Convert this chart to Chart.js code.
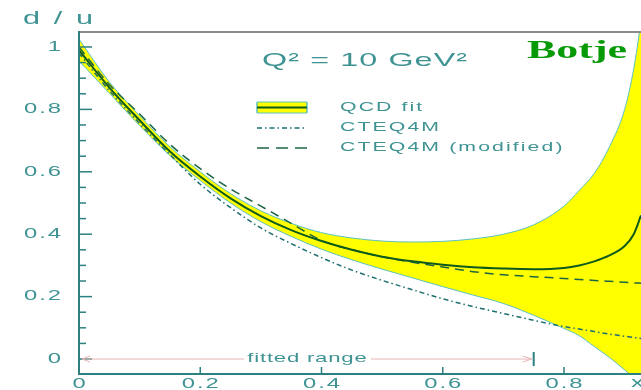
<!DOCTYPE html>
<html>
<head>
<meta charset="utf-8">
<script src="https://cdn.jsdelivr.net/npm/chart.js@4.4.0/dist/chart.umd.min.js"></script>
<style>
  html, body { margin: 0; padding: 0; background: #fff; overflow: hidden; }
  #wrap { width: 641px; height: 390px; overflow: hidden; }
</style>
</head>
<body>
<div id="wrap"><canvas id="duRatio" width="641" height="400"></canvas></div>
<script>
// x values shared by every curve
const xVals = [0, 0.05, 0.1, 0.15, 0.2, 0.25, 0.3, 0.35, 0.4, 0.45, 0.5, 0.55, 0.6, 0.65, 0.7, 0.75, 0.8, 0.825, 0.85, 0.875, 0.9, 0.915, 0.927];

// QCD fit central value and error band
const qcdFit   = [0.99, 0.87, 0.765, 0.665, 0.585, 0.515, 0.458, 0.413, 0.378, 0.35, 0.328, 0.313, 0.302, 0.294, 0.29, 0.288, 0.292, 0.3, 0.313, 0.332, 0.362, 0.4, 0.46];
const qcdUpper = [1.025, 0.888, 0.78, 0.68, 0.6, 0.53, 0.475, 0.435, 0.405, 0.388, 0.378, 0.375, 0.377, 0.385, 0.4, 0.43, 0.49, 0.54, 0.595, 0.68, 0.8, 0.93, 1.08];
const qcdLower = [0.955, 0.852, 0.748, 0.652, 0.572, 0.5, 0.44, 0.393, 0.352, 0.318, 0.288, 0.26, 0.232, 0.205, 0.178, 0.14, 0.098, 0.075, 0.04, 0.005, -0.035, -0.06, -0.08];

// CTEQ4M and modified CTEQ4M
const cteq4m    = [0.98, 0.86, 0.755, 0.655, 0.56, 0.485, 0.42, 0.37, 0.325, 0.285, 0.252, 0.222, 0.193, 0.168, 0.146, 0.124, 0.104, 0.096, 0.088, 0.08, 0.073, 0.069, 0.066];
const cteq4mMod = [1.0, 0.88, 0.785, 0.688, 0.61, 0.545, 0.49, 0.435, 0.38, 0.35, 0.328, 0.31, 0.295, 0.28, 0.27, 0.264, 0.258, 0.255, 0.252, 0.249, 0.246, 0.244, 0.243];

const xTicks = [0, 0.2, 0.4, 0.6, 0.8];
const yTicks = [0, 0.2, 0.4, 0.6, 0.8, 1];
const legendLabels = ["QCD fit", "CTEQ4M", "CTEQ4M (modified)"];
const fittedRange = [0, 0.75];

const teal = "#2c8080";
const textTeal = "#3f9393";
const bandEdge = "#5cc0c0";
const fitGreen = "#0e5a1c";
const cteqColor = "#1d6f70";
const modColor = "#1d6544";

const toPoints = (ys) => xVals.map((x, i) => ({ x: x, y: ys[i] }));

// draws text stretched sideways with a little letter spacing, like the original plot
function wideText(ctx, text, x, y, size, gap, align, color) {
  ctx.save();
  ctx.font = size + 'px "Liberation Sans", Arial, sans-serif';
  ctx.fillStyle = color;
  ctx.textBaseline = "middle";
  ctx.textAlign = "left";
  const sx = 1.7;
  const chars = [...text];
  const widths = chars.map((c) => ctx.measureText(c).width * sx);
  const total = widths.reduce((a, b) => a + b, 0) + gap * (chars.length - 1);
  let cx = align === "right" ? x - total : align === "center" ? x - total / 2 : x;
  chars.forEach((c, i) => {
    ctx.save();
    ctx.translate(cx, y);
    ctx.scale(sx, 1);
    ctx.fillText(c, 0, 0);
    ctx.restore();
    cx += widths[i] + gap;
  });
  ctx.restore();
}

function line(ctx, x1, y1, x2, y2, color, width, dash) {
  ctx.save();
  ctx.strokeStyle = color;
  ctx.lineWidth = width;
  ctx.setLineDash(dash || []);
  ctx.beginPath();
  ctx.moveTo(x1, y1);
  ctx.lineTo(x2, y2);
  ctx.stroke();
  ctx.restore();
}

const decor = {
  id: "decor",
  afterDraw(chart) {
    const ctx = chart.ctx;
    const area = chart.chartArea;
    const xs = chart.scales.x;
    const ys = chart.scales.y;

    // frame
    line(ctx, area.left, area.top, area.right, area.top, "#8a8a8a", 2);
    line(ctx, area.left, area.top - 1, area.left, area.bottom + 1, teal, 2);
    line(ctx, area.left, area.bottom, area.right, area.bottom, teal, 2);

    // y ticks, inward, minor every 0.05
    for (let i = 0; i < yTicks.length; i++) {
      const py = ys.getPixelForValue(yTicks[i]);
      line(ctx, area.left, py, area.left + 13, py, teal, 1.5);
      wideText(ctx, String(yTicks[i]), 61, py, 14, 2, "right", textTeal);
      if (i < yTicks.length - 1) {
        const step = (yTicks[i + 1] - yTicks[i]) / 4;
        for (let k = 1; k < 4; k++) {
          const my = ys.getPixelForValue(yTicks[i] + k * step);
          line(ctx, area.left, my, area.left + 7, my, teal, 1.5);
        }
      }
    }

    // x ticks
    xTicks.forEach((v) => {
      const px = xs.getPixelForValue(v);
      if (v > 0) line(ctx, px, area.bottom, px, area.bottom - 7, teal, 1.5);
      wideText(ctx, String(v), px, 384, 14, 2, "center", textTeal);
    });
    wideText(ctx, "x", 631, 383, 15, 0, "left", textTeal);

    // y axis title
    wideText(ctx, "d / u", 23, 19, 18, 2.6, "left", textTeal);

    // title
    wideText(ctx, "Q\u00b2 = 10 GeV\u00b2", 262, 61, 19, 1.1, "left", textTeal);

    // Botje
    ctx.save();
    ctx.font = 'bold 25px "Liberation Serif", "Times New Roman", serif';
    ctx.fillStyle = "#079a07";
    ctx.textBaseline = "alphabetic";
    const bw = ctx.measureText("Botje").width;
    ctx.translate(527, 58);
    ctx.scale(100 / bw, 1);
    ctx.fillText("Botje", 0, 0);
    ctx.restore();

    // legend
    const lx1 = 257, lx2 = 307;
    ctx.save();
    ctx.fillStyle = "#ffff00";
    ctx.fillRect(lx1, 102, lx2 - lx1, 11);
    ctx.restore();
    line(ctx, lx1, 102, lx2, 102, bandEdge, 1);
    line(ctx, lx1, 113, lx2, 113, bandEdge, 1);
    line(ctx, lx1, 102, lx1, 113, bandEdge, 1.5);
    line(ctx, lx2, 102, lx2, 113, bandEdge, 1.5);
    line(ctx, lx1, 107.5, lx2, 107.5, fitGreen, 2);
    line(ctx, lx1, 128, lx2, 128, cteqColor, 1.5, [5, 3, 1.5, 3]);
    line(ctx, lx1, 148, lx2, 148, modColor, 1.5, [12, 7]);
    wideText(ctx, legendLabels[0], 340, 107.5, 12.5, 2.1, "left", textTeal);
    wideText(ctx, legendLabels[1], 340, 127.5, 12.5, 2.1, "left", textTeal);
    wideText(ctx, legendLabels[2], 340, 148, 12.5, 2.1, "left", textTeal);

    // fitted range marker
    const fy = ys.getPixelForValue(0);
    const fx1 = xs.getPixelForValue(fittedRange[0]) + 3;
    const fx2 = xs.getPixelForValue(fittedRange[1]);
    const pink = "#e8b4b4";
    line(ctx, fx1, fy, 244, fy, pink, 1);
    line(ctx, 371, fy, fx2 - 2, fy, pink, 1);
    line(ctx, fx1, fy, fx1 + 8, fy - 3, pink, 1);
    line(ctx, fx1, fy, fx1 + 8, fy + 3, pink, 1);
    line(ctx, fx2 - 2, fy, fx2 - 11, fy - 3, pink, 1);
    line(ctx, fx2 - 2, fy, fx2 - 11, fy + 3, pink, 1);
    line(ctx, fx2, fy - 7, fx2, fy + 7, teal, 2);
    wideText(ctx, "fitted range", 307, 358, 13, 0.8, "center", textTeal);
  }
};

new Chart(document.getElementById("duRatio").getContext("2d"), {
  type: "line",
  data: {
    datasets: [
      {
        label: legendLabels[0],
        data: toPoints(qcdFit),
        borderColor: fitGreen,
        borderWidth: 2,
        cubicInterpolationMode: "monotone",
        fill: false,
      },
      {
        label: legendLabels[1],
        data: toPoints(cteq4m),
        borderColor: cteqColor,
        borderWidth: 1.5,
        borderDash: [5, 3, 1.5, 3],
        cubicInterpolationMode: "monotone",
        fill: false,
      },
      {
        label: legendLabels[2],
        data: toPoints(cteq4mMod),
        borderColor: modColor,
        borderWidth: 1.5,
        borderDash: [9, 6],
        cubicInterpolationMode: "monotone",
        fill: false,
      },
      {
        label: "band upper",
        data: toPoints(qcdUpper),
        borderColor: bandEdge,
        borderWidth: 1,
        backgroundColor: "#ffff00",
        cubicInterpolationMode: "monotone",
        fill: "+1",
      },
      {
        label: "band lower",
        data: toPoints(qcdLower),
        borderColor: bandEdge,
        borderWidth: 1,
        cubicInterpolationMode: "monotone",
        fill: false,
      },
    ],
  },
  options: {
    responsive: false,
    animation: false,
    devicePixelRatio: 1,
    layout: { padding: { top: 32, left: 0, right: 0, bottom: 0 } },
    elements: { point: { radius: 0 } },
    plugins: {
      legend: { display: false },
      tooltip: { enabled: false },
      filler: { drawTime: "beforeDatasetsDraw" },
    },
    scales: {
      x: {
        type: "linear",
        min: 0,
        max: 0.927,
        ticks: { display: false },
        grid: { display: false },
        border: { display: false },
        afterFit: (s) => { s.height = 26; },
      },
      y: {
        min: -0.048,
        max: 1.048,
        ticks: { display: false },
        grid: { display: false },
        border: { display: false },
        afterFit: (s) => { s.width = 79; },
      },
    },
  },
  plugins: [decor],
});
</script>
</body>
</html>
